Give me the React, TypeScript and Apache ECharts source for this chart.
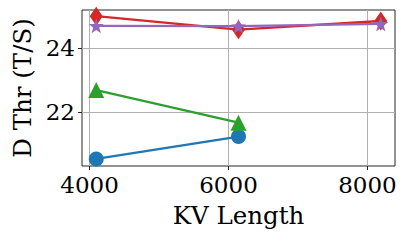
import React, { useEffect, useRef } from "react";
import * as echarts from "echarts";

// KV lengths on the x axis
const kvLengths = [4096, 6144, 8192];

// Decode throughput per configuration
const seriesBlue = [20.56, 21.25];
const seriesGreen = [22.69, 21.68];
const seriesRed = [24.98, 24.56, 24.83];
const seriesPurple = [24.68, 24.67, 24.74];

const xTicks = [4000, 6000, 8000];
const yTicks = [22, 24];

const STAR =
  "path://M0,-10 L2.35,-3.24 L9.51,-3.09 L3.8,1.24 L5.88,8.09 L0,4 L-5.88,8.09 L-3.8,1.24 L-9.51,-3.09 L-2.35,-3.24 Z";

const FONT = "DejaVu Serif";
const FS = 23;
const NAME_FS = 24.5;

function pairs(vals: number[]) {
  return vals.map((v, i) => [kvLengths[i], v]);
}

export default function App() {
  const ref = useRef<HTMLDivElement>(null);

  useEffect(() => {
    if (!ref.current) return;
    const chart = echarts.init(ref.current, undefined, { renderer: "svg" });
    const lineStyle = (c: string) => ({ color: c, width: 2.3 });
    chart.setOption({
      animation: false,
      backgroundColor: "#ffffff",
      grid: {
        left: 82,
        right: 16,
        top: 10,
        bottom: 75,
        show: true,
        borderColor: "#262626",
        borderWidth: 1,
        backgroundColor: "transparent",
      },
      xAxis: {
        type: "value",
        min: 3891,
        max: 8397,
        name: "KV Length",
        nameLocation: "middle",
        nameGap: 37,
        nameTextStyle: { fontFamily: FONT, fontSize: NAME_FS, color: "#000" },
        axisLine: { show: false },
        axisTick: {
          show: true,
          customValues: xTicks,
          length: 4,
          lineStyle: { color: "#262626", width: 1 },
        },
        axisLabel: {
          customValues: xTicks,
          formatter: (v: number) => String(v),
          fontFamily: FONT,
          fontSize: FS,
          color: "#000",
          margin: 7,
        },
        splitLine: { show: true, lineStyle: { color: "#b0b0b0", width: 1 } },
      },
      yAxis: {
        type: "value",
        min: 20.34,
        max: 25.17,
        name: "D Thr (T/S)",
        nameLocation: "middle",
        nameGap: 44,
        nameTextStyle: { fontFamily: FONT, fontSize: NAME_FS, color: "#000" },
        axisLine: { show: false },
        axisTick: {
          show: true,
          customValues: yTicks,
          length: 4,
          lineStyle: { color: "#262626", width: 1 },
        },
        axisLabel: {
          customValues: yTicks,
          formatter: (v: number) => String(v),
          fontFamily: FONT,
          fontSize: FS,
          color: "#000",
          margin: 7,
        },
        splitLine: { show: true, lineStyle: { color: "#b0b0b0", width: 1 } },
      },
      series: [
        {
          type: "line",
          data: pairs(seriesBlue),
          symbol: "circle",
          symbolSize: 15,
          itemStyle: { color: "#1f77b4" },
          lineStyle: lineStyle("#1f77b4"),
        },
        {
          type: "line",
          data: pairs(seriesGreen),
          symbol: "triangle",
          symbolSize: 16,
          itemStyle: { color: "#2ca02c" },
          lineStyle: lineStyle("#2ca02c"),
        },
        {
          type: "line",
          data: pairs(seriesRed),
          symbol: "diamond",
          symbolSize: [13, 19],
          itemStyle: { color: "#d62728" },
          lineStyle: lineStyle("#d62728"),
        },
        {
          type: "line",
          data: pairs(seriesPurple),
          symbol: STAR,
          symbolSize: 15,
          itemStyle: { color: "#9467bd" },
          lineStyle: lineStyle("#9467bd"),
        },
      ],
    });
    return () => chart.dispose();
  }, []);

  return (
    <div
      ref={ref}
      style={{ position: "fixed", left: 0, top: 0, width: 411, height: 241 }}
    />
  );
}
